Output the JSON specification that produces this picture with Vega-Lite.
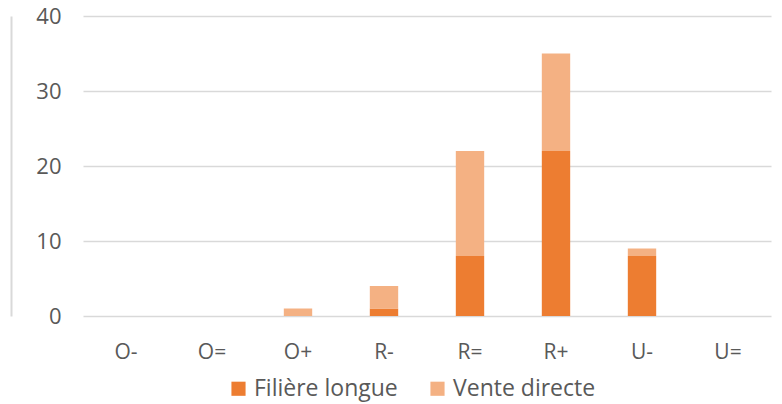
{
  "$schema": "https://vega.github.io/schema/vega-lite/v6.json",
  "autosize": "none",
  "width": 688,
  "height": 300,
  "padding": {"left": 83, "top": 16, "right": 11, "bottom": 88},
  "background": "white",
  "config": {
    "view": {"stroke": null},
    "font": "Open Sans"
  },
  "data": {
    "values": [
      {"cat": "O-", "serie": "Filière longue", "val": 0},
      {"cat": "O-", "serie": "Vente directe", "val": 0},
      {"cat": "O=", "serie": "Filière longue", "val": 0},
      {"cat": "O=", "serie": "Vente directe", "val": 0},
      {"cat": "O+", "serie": "Filière longue", "val": 0},
      {"cat": "O+", "serie": "Vente directe", "val": 1},
      {"cat": "R-", "serie": "Filière longue", "val": 1},
      {"cat": "R-", "serie": "Vente directe", "val": 3},
      {"cat": "R=", "serie": "Filière longue", "val": 8},
      {"cat": "R=", "serie": "Vente directe", "val": 14},
      {"cat": "R+", "serie": "Filière longue", "val": 22},
      {"cat": "R+", "serie": "Vente directe", "val": 13},
      {"cat": "U-", "serie": "Filière longue", "val": 8},
      {"cat": "U-", "serie": "Vente directe", "val": 1},
      {"cat": "U=", "serie": "Filière longue", "val": 0},
      {"cat": "U=", "serie": "Vente directe", "val": 0}
    ]
  },
  "encoding": {
    "x": {
      "field": "cat", "type": "nominal",
      "sort": ["O-", "O=", "O+", "R-", "R=", "R+", "U-", "U="],
      "scale": {"paddingInner": 0.67, "paddingOuter": 0.335},
      "axis": {"title": null, "labelAngle": 0, "domain": false, "ticks": false,
               "labelFontSize": 21, "labelColor": "#595959", "labelPadding": 25}
    }
  },
  "layer": [
    {
      "mark": {"type": "bar"},
      "encoding": {
        "y": {
          "field": "val", "type": "quantitative", "aggregate": "sum", "stack": "zero",
          "scale": {"domain": [0, 40]},
          "axis": {"title": null, "values": [0, 10, 20, 30, 40], "domain": false, "ticks": false,
                   "labelFontSize": 22, "labelColor": "#595959", "labelPadding": 22,
                   "gridColor": "#D9D9D9", "gridWidth": 1.5}
        },
        "color": {
          "field": "serie", "type": "nominal",
          "scale": {"domain": ["Filière longue", "Vente directe"], "range": ["#ED7D31", "#F4B183"]},
          "legend": {"title": null, "orient": "none", "legendX": 144, "legendY": 361,
                     "direction": "horizontal",
                     "symbolType": "square", "symbolSize": 200, "symbolStrokeWidth": 0,
                     "labelFontSize": 23, "labelColor": "#595959",
                     "columnPadding": 28, "labelOffset": 4}
        },
        "order": {"field": "serie", "sort": "ascending"}
      }
    },
    {
      "mark": {"type": "bar", "opacity": 0},
      "encoding": {
        "y": {
          "field": "val", "type": "quantitative", "aggregate": "sum", "stack": "zero",
          "axis": {"orient": "left", "title": null, "labels": false, "ticks": false, "grid": false,
                   "domain": true, "domainColor": "#D9D9D9", "domainWidth": 2, "offset": 72}
        }
      }
    }
  ],
  "resolve": {"axis": {"y": "independent"}}
}
